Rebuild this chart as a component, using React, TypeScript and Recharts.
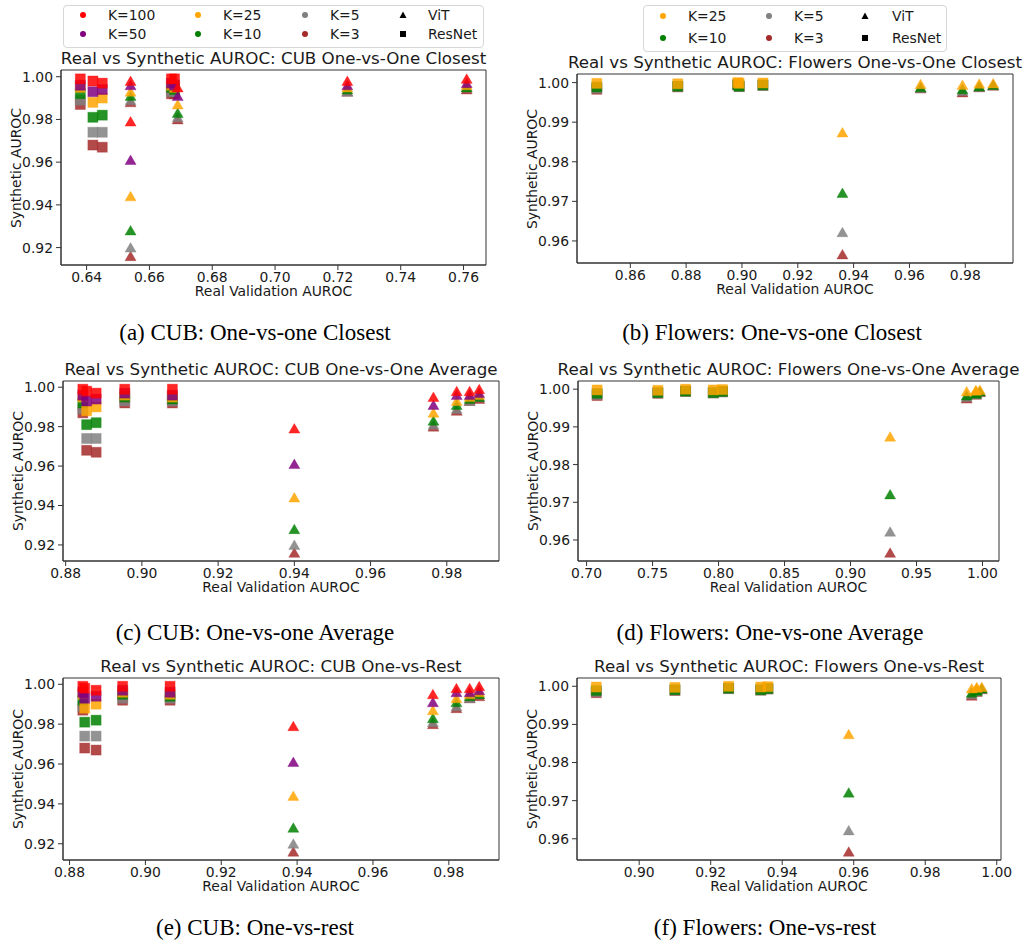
import React from "react";
import { ScatterChart, Scatter, XAxis, YAxis, ReferenceArea } from "recharts";

// K settings per dataset (legend order); drawn in reverse so K=100 / K=25 end up on top
const cubK = ["K=100", "K=50", "K=25", "K=10", "K=5", "K=3"];
const flowersK = ["K=25", "K=10", "K=5", "K=3"];

// synthetic AUROC, one row per model, one column per K
const cubVitSynthetic = [
  [0.998, 0.996, 0.993, 0.991, 0.989, 0.988],
  [0.979, 0.961, 0.944, 0.928, 0.92, 0.916],
  [0.995, 0.991, 0.987, 0.983, 0.981, 0.98],
  [0.998, 0.996, 0.995, 0.994, 0.993, 0.993],
  [0.999, 0.997, 0.996, 0.995, 0.995, 0.994],
];
const cubResSynthetic = [
  [0.999, 0.996, 0.995, 0.992, 0.989, 0.987],
  [0.998, 0.993, 0.988, 0.981, 0.974, 0.968],
  [0.997, 0.994, 0.99, 0.982, 0.974, 0.967],
  [0.999, 0.997, 0.996, 0.995, 0.993, 0.992],
  [0.999, 0.996, 0.995, 0.994, 0.993, 0.992],
];
const flowersVitSynthetic = [
  [0.9996, 0.9988, 0.9986, 0.9985],
  [0.9874, 0.9721, 0.9622, 0.9566],
  [0.9994, 0.9983, 0.9979, 0.9975],
  [0.9997, 0.999, 0.9989, 0.9988],
  [0.9998, 0.9994, 0.9993, 0.9992],
];
const flowersResSynthetic = [
  [0.9998, 0.9989, 0.9986, 0.9983],
  [0.9997, 0.9991, 0.999, 0.9989],
  [1.0, 0.9995, 0.9994, 0.9994],
  [0.9998, 0.9991, 0.999, 0.999],
  [0.9999, 0.9994, 0.9993, 0.9993],
];

// real validation AUROC per model, per panel
const cubClosestVitReal = [0.654, 0.654, 0.669, 0.723, 0.761];
const cubClosestResReal = [0.638, 0.642, 0.645, 0.667, 0.668];
const cubAverageVitReal = [0.9826, 0.94, 0.9765, 0.986, 0.9885];
const cubAverageResReal = [0.8845, 0.8855, 0.888, 0.8955, 0.908];
const cubRestVitReal = [0.982, 0.939, 0.9758, 0.9855, 0.988];
const cubRestResReal = [0.8835, 0.884, 0.887, 0.894, 0.9065];
const flowersClosestVitReal = [0.964, 0.936, 0.979, 0.985, 0.99];
const flowersClosestResReal = [0.848, 0.877, 0.8985, 0.899, 0.9075];
const flowersAverageVitReal = [0.995, 0.93, 0.988, 0.995, 0.998];
const flowersAverageResReal = [0.708, 0.754, 0.775, 0.796, 0.803];
const flowersRestVitReal = [0.9944, 0.9586, 0.993, 0.9944, 0.9958];
const flowersRestResReal = [0.888, 0.91, 0.925, 0.934, 0.936];

// tick labels
const cubYTicks = [0.92, 0.94, 0.96, 0.98, 1.0];
const flowersYTicks = [0.96, 0.97, 0.98, 0.99, 1.0];
const cubClosestXTicks = [0.64, 0.66, 0.68, 0.7, 0.72, 0.74, 0.76];
const flowersClosestXTicks = [0.86, 0.88, 0.9, 0.92, 0.94, 0.96, 0.98];
const cubAverageXTicks = [0.88, 0.9, 0.92, 0.94, 0.96, 0.98];
const flowersAverageXTicks = [0.7, 0.75, 0.8, 0.85, 0.9, 0.95, 1.0];
const cubRestXTicks = [0.88, 0.9, 0.92, 0.94, 0.96, 0.98];
const flowersRestXTicks = [0.9, 0.92, 0.94, 0.96, 0.98, 1.0];

const colorOf: Record<string, string> = {
  "K=100": "#ff0000",
  "K=50": "#800080",
  "K=25": "#ffa500",
  "K=10": "#008000",
  "K=5": "#808080",
  "K=3": "#a52a2a",
};

const TEXT = "#1a1a1a";
const AXIS = "#333";
const SANS = "'DejaVu Sans', sans-serif";

function padDomain(values: number[]): [number, number] {
  const lo = Math.min(...values);
  const hi = Math.max(...values);
  const m = (hi - lo) * 0.05;
  return [lo - m, hi + m];
}

const squareShape = (p: any) => (
  <rect
    x={p.cx - 5}
    y={p.cy - 5}
    width={10}
    height={10}
    fill={p.fill}
    fillOpacity={0.85}
    stroke={p.fill}
    strokeOpacity={0.35}
  />
);

const triangleShape = (p: any) => (
  <path
    d={`M${p.cx},${p.cy - 5} L${p.cx + 5.5},${p.cy + 4.5} L${p.cx - 5.5},${p.cy + 4.5} Z`}
    fill={p.fill}
    fillOpacity={0.85}
    stroke={p.fill}
    strokeOpacity={0.35}
  />
);

interface PanelProps {
  box: [number, number, number, number]; // plot left, top, right, bottom
  title: string;
  keys: string[];
  vitReal: number[];
  vitSynth: number[][];
  resReal: number[];
  resSynth: number[][];
  xTicks: number[];
  yTicks: number[];
}

function Panel({ box, title, keys, vitReal, vitSynth, resReal, resSynth, xTicks, yTicks }: PanelProps) {
  const [left, top, right, bottom] = box;
  const padL = 70, padT = 25, padR = 15, padB = 45;
  const w = right - left + padL + padR;
  const h = bottom - top + padT + padB;
  const xd = padDomain([...vitReal, ...resReal]);
  const yd = padDomain([...vitSynth.flat(), ...resSynth.flat()]);
  const order = keys.map((_, i) => i).reverse();
  const fmt = (v: number) => v.toFixed(2);
  const mid = (left + right) / 2;

  return (
    <>
      <div
        style={{
          position: "absolute",
          left: mid - 300,
          width: 600,
          top: top - 22,
          lineHeight: "20px",
          textAlign: "center",
          fontSize: 16.7,
          whiteSpace: "nowrap",
          color: TEXT,
        }}
      >
        {title}
      </div>
      <div style={{ position: "absolute", left: left - padL, top: top - padT }}>
        <ScatterChart width={w} height={h} margin={{ top: padT, right: padR, bottom: 0, left: 0 }}>
          <XAxis
            type="number"
            dataKey="x"
            domain={xd}
            allowDataOverflow
            ticks={xTicks}
            interval={0}
            height={padB}
            tickSize={5}
            tickMargin={2}
            tickFormatter={fmt}
            stroke={AXIS}
            tick={{ fill: TEXT, fontSize: 13.9 }}
          />
          <YAxis
            type="number"
            dataKey="y"
            domain={yd}
            allowDataOverflow
            ticks={yTicks}
            interval={0}
            width={padL}
            tickSize={5}
            tickMargin={3}
            tickFormatter={fmt}
            stroke={AXIS}
            tick={{ fill: TEXT, fontSize: 13.9 }}
          />
          <ReferenceArea
            x1={xd[0]}
            x2={xd[1]}
            y1={yd[0]}
            y2={yd[1]}
            fill="none"
            stroke={AXIS}
            ifOverflow="visible"
          />
          {order.map((ki) => (
            <Scatter
              key={`res-${keys[ki]}`}
              data={resReal.map((x, mi) => ({ x, y: resSynth[mi][ki] }))}
              fill={colorOf[keys[ki]]}
              shape={squareShape}
              isAnimationActive={false}
            />
          ))}
          {order.map((ki) => (
            <Scatter
              key={`vit-${keys[ki]}`}
              data={vitReal.map((x, mi) => ({ x, y: vitSynth[mi][ki] }))}
              fill={colorOf[keys[ki]]}
              shape={triangleShape}
              isAnimationActive={false}
            />
          ))}
        </ScatterChart>
      </div>
      <div
        style={{
          position: "absolute",
          left: mid - 150,
          width: 300,
          top: bottom + 16,
          lineHeight: "20px",
          textAlign: "center",
          fontSize: 13.9,
          color: TEXT,
        }}
      >
        Real Validation AUROC
      </div>
      <div
        style={{
          position: "absolute",
          left: left - 45.5,
          top: (top + bottom) / 2,
          transform: "translate(-50%, -50%) rotate(-90deg)",
          fontSize: 13.9,
          whiteSpace: "nowrap",
          color: TEXT,
        }}
      >
        Synthetic AUROC
      </div>
    </>
  );
}

interface LegendProps {
  box: [number, number, number, number]; // left, top, width, height
  keys: string[];
  markerX: number[];
  textX: number[];
  rowY: number[];
}

function Legend({ box, keys, markerX, textX, rowY }: LegendProps) {
  const entries: { label: string; kind: string }[] = [
    ...keys.map((k) => ({ label: k, kind: k })),
    { label: "ViT", kind: "tri" },
    { label: "ResNet", kind: "sq" },
  ];
  return (
    <>
      <div
        style={{
          position: "absolute",
          left: box[0],
          top: box[1],
          width: box[2],
          height: box[3],
          border: "1px solid #d6d6d6",
          borderRadius: 4,
          boxSizing: "border-box",
        }}
      />
      {entries.map((e, i) => {
        const col = Math.floor(i / 2);
        const row = i % 2;
        const cy = rowY[row];
        let marker;
        if (e.kind === "tri") {
          marker = <path d="M5,1.5 L8.5,8 L1.5,8 Z" fill="#000" />;
        } else if (e.kind === "sq") {
          marker = <rect x={2} y={2} width={6} height={6} fill="#000" />;
        } else {
          marker = <circle cx={5} cy={5} r={3} fill={colorOf[e.kind]} />;
        }
        return (
          <React.Fragment key={e.label}>
            <svg
              width={10}
              height={10}
              style={{ position: "absolute", left: markerX[col] - 5, top: cy - 5 }}
            >
              {marker}
            </svg>
            <div
              style={{
                position: "absolute",
                left: textX[col],
                top: cy - 10,
                lineHeight: "20px",
                fontSize: 13.9,
                color: TEXT,
                whiteSpace: "nowrap",
              }}
            >
              {e.label}
            </div>
          </React.Fragment>
        );
      })}
    </>
  );
}

function Caption({ x, y, text }: { x: number; y: number; text: string }) {
  return (
    <div
      style={{
        position: "absolute",
        left: x - 250,
        width: 500,
        top: y - 15,
        lineHeight: "30px",
        textAlign: "center",
        fontFamily: "'Liberation Serif', 'Times New Roman', serif",
        fontSize: 23,
        color: "#000",
        whiteSpace: "nowrap",
      }}
    >
      {text}
    </div>
  );
}

export default function App() {
  return (
    <div
      style={{
        position: "absolute",
        left: 0,
        top: 0,
        width: 1024,
        height: 947,
        background: "#fff",
        fontFamily: SANS,
        overflow: "hidden",
      }}
    >
      <Legend
        box={[63, 5, 421, 43]}
        keys={cubK}
        markerX={[83, 198, 305, 403]}
        textX={[108, 223, 330, 428]}
        rowY={[15, 34]}
      />
      <Legend
        box={[643, 5, 304, 47]}
        keys={flowersK}
        markerX={[663, 769, 865]}
        textX={[688, 794, 892]}
        rowY={[16, 38]}
      />

      <Panel
        box={[61, 70, 486, 265]}
        title="Real vs Synthetic AUROC: CUB One-vs-One Closest"
        keys={cubK}
        vitReal={cubClosestVitReal}
        vitSynth={cubVitSynthetic}
        resReal={cubClosestResReal}
        resSynth={cubResSynthetic}
        xTicks={cubClosestXTicks}
        yTicks={cubYTicks}
      />
      <Panel
        box={[577, 74, 1013, 263]}
        title="Real vs Synthetic AUROC: Flowers One-vs-One Closest"
        keys={flowersK}
        vitReal={flowersClosestVitReal}
        vitSynth={flowersVitSynthetic}
        resReal={flowersClosestResReal}
        resSynth={flowersResSynthetic}
        xTicks={flowersClosestXTicks}
        yTicks={flowersYTicks}
      />
      <Panel
        box={[63, 381, 499, 561]}
        title="Real vs Synthetic AUROC: CUB One-vs-One Average"
        keys={cubK}
        vitReal={cubAverageVitReal}
        vitSynth={cubVitSynthetic}
        resReal={cubAverageResReal}
        resSynth={cubResSynthetic}
        xTicks={cubAverageXTicks}
        yTicks={cubYTicks}
      />
      <Panel
        box={[578, 381, 999, 561]}
        title="Real vs Synthetic AUROC: Flowers One-vs-One Average"
        keys={flowersK}
        vitReal={flowersAverageVitReal}
        vitSynth={flowersVitSynthetic}
        resReal={flowersAverageResReal}
        resSynth={flowersResSynthetic}
        xTicks={flowersAverageXTicks}
        yTicks={flowersYTicks}
      />
      <Panel
        box={[63, 678, 499, 860]}
        title="Real vs Synthetic AUROC: CUB One-vs-Rest"
        keys={cubK}
        vitReal={cubRestVitReal}
        vitSynth={cubVitSynthetic}
        resReal={cubRestResReal}
        resSynth={cubResSynthetic}
        xTicks={cubRestXTicks}
        yTicks={cubYTicks}
      />
      <Panel
        box={[577, 678, 1001, 860]}
        title="Real vs Synthetic AUROC: Flowers One-vs-Rest"
        keys={flowersK}
        vitReal={flowersRestVitReal}
        vitSynth={flowersVitSynthetic}
        resReal={flowersRestResReal}
        resSynth={flowersResSynthetic}
        xTicks={flowersRestXTicks}
        yTicks={flowersYTicks}
      />

      <Caption x={255} y={333} text="(a) CUB: One-vs-one Closest" />
      <Caption x={772} y={333} text="(b) Flowers: One-vs-one Closest" />
      <Caption x={255} y={633} text="(c) CUB: One-vs-one Average" />
      <Caption x={770} y={633} text="(d) Flowers: One-vs-one Average" />
      <Caption x={255} y={928} text="(e) CUB: One-vs-rest" />
      <Caption x={765} y={928} text="(f) Flowers: One-vs-rest" />
    </div>
  );
}
